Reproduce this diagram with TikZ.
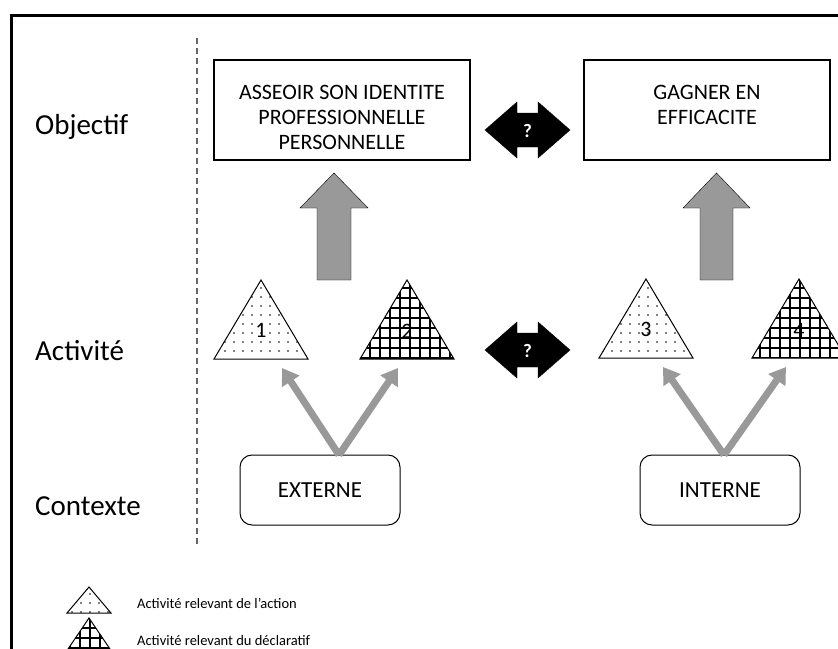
\documentclass[tikz,border=0pt]{standalone}
\usepackage{fontspec}
\setmainfont{Carlito}
\usetikzlibrary{arrows.meta,patterns.meta}

\tikzstyle{obox}=[draw, line width=2pt, minimum width=256pt, minimum height=100pt]
\tikzstyle{cbox}=[draw, rounded corners=12pt, line width=1pt, minimum width=160pt, minimum height=70pt, font=\fontsize{23}{26}\selectfont]
\tikzstyle{rowlabel}=[anchor=west, inner sep=0pt, font=\fontsize{29}{32}\selectfont]
\tikzstyle{btext}=[anchor=north, align=center, inner sep=0pt, font=\fontsize{22}{25}\selectfont]
\tikzstyle{num}=[font=\fontsize{22}{24}\selectfont]
\tikzstyle{dottri}=[draw, line width=1pt, pattern={Dots[distance=9pt,radius=0.9pt]}]
\tikzstyle{gridtri}=[draw, line width=1pt, pattern={Hatch[distance=10pt,line width=1.3pt]}]
\tikzstyle{forkarrow}=[draw=black!40, line width=7pt, -{Triangle[width=20pt,length=16pt]}]
\tikzstyle{blockarrow}=[fill=black!40]
\tikzstyle{qarrow}=[fill=black]
\tikzstyle{qmark}=[text=white, font=\bfseries\fontsize{19}{20}\selectfont]
\tikzstyle{legend}=[anchor=west, inner sep=0pt, font=\fontsize{14.5}{16}\selectfont]

\begin{document}
\begin{tikzpicture}[x=1pt,y=-1pt]
\clip (0,0) rectangle (838,648);
\fill[white] (0,0) rectangle (838,648);

% frame and separator
\draw[line width=3pt] (11,650) -- (11,15) -- (840,15);
\draw[black!60, line width=1.5pt, dash pattern=on 6pt off 4pt] (197,38) -- (197,545);

% row labels
\node[rowlabel] (lobj) at (35,127) {Objectif};
\node[rowlabel] (lact) at (35,351) {Activité};
\node[rowlabel] (lctx) at (35,506) {Contexte};

% objectives
\node[obox] (obj1) at (342,110) {};
\node[btext] (obj1txt) at ([yshift=-26pt]obj1.north) {ASSEOIR SON IDENTITE\\PROFESSIONNELLE\\PERSONNELLE};
\node[obox, minimum width=246pt] (obj2) at (707,110) {};
\node[btext] (obj2txt) at ([yshift=-26pt]obj2.north) {GAGNER EN\\EFFICACITE};

% question arrows
\draw[qarrow] (485,130) -- (517,102) -- (517,113) -- (538,113) -- (538,102) -- (570,130)
  -- (538,158) -- (538,147) -- (517,147) -- (517,158) -- cycle;
\node[qmark] (q1) at (527.5,131) {?};
\draw[qarrow] (485,350) -- (517,322) -- (517,333) -- (538,333) -- (538,322) -- (570,350)
  -- (538,378) -- (538,367) -- (517,367) -- (517,378) -- cycle;
\node[qmark] (q2) at (527.5,351) {?};

% up arrows
\draw[blockarrow] (317,280) -- (317,208) -- (300,208) -- (334,173) -- (368,208) -- (351,208) -- (351,280) -- cycle;
\draw[blockarrow] (700,280) -- (700,208) -- (683,208) -- (716.5,173) -- (750,208) -- (733,208) -- (733,280) -- cycle;

% activities
\draw[dottri] (261,280) -- (308,359) -- (214,359) -- cycle;
\node[num] (a1) at (261,330) {1};
\draw[gridtri] (407,280) -- (454,359) -- (360,359) -- cycle;
\node[num] (a2) at (407,331) {2};
\draw[dottri] (646,279) -- (693,358) -- (599,358) -- cycle;
\node[num] (a3) at (646,329) {3};
\draw[gridtri] (799,279) -- (846,358) -- (752,358) -- cycle;
\node[num] (a4) at (799,330) {4};

% contexts
\node[cbox] (ext) at (320,490) {EXTERNE};
\node[cbox] (int) at (720,490) {INTERNE};

\coordinate (extfork) at (339,455);
\coordinate (t1tip) at (282,368);
\coordinate (t2tip) at (398,368);
\coordinate (intfork) at (724,455);
\coordinate (t3tip) at (663,367);
\coordinate (t4tip) at (786,367);
\draw[forkarrow] (extfork) -- (t1tip);
\draw[forkarrow] (extfork) -- (t2tip);
\draw[forkarrow] (intfork) -- (t3tip);
\draw[forkarrow] (intfork) -- (t4tip);

% legend
\draw[dottri] (89,587) -- (111,613) -- (67,613) -- cycle;
\node[legend] (leg1) at (137,603) {Activité relevant de l’action};
\draw[gridtri] (89,618) -- (112,652) -- (66,652) -- cycle;
\node[legend] (leg2) at (137,641) {Activité relevant du déclaratif};
\end{tikzpicture}
\end{document}
